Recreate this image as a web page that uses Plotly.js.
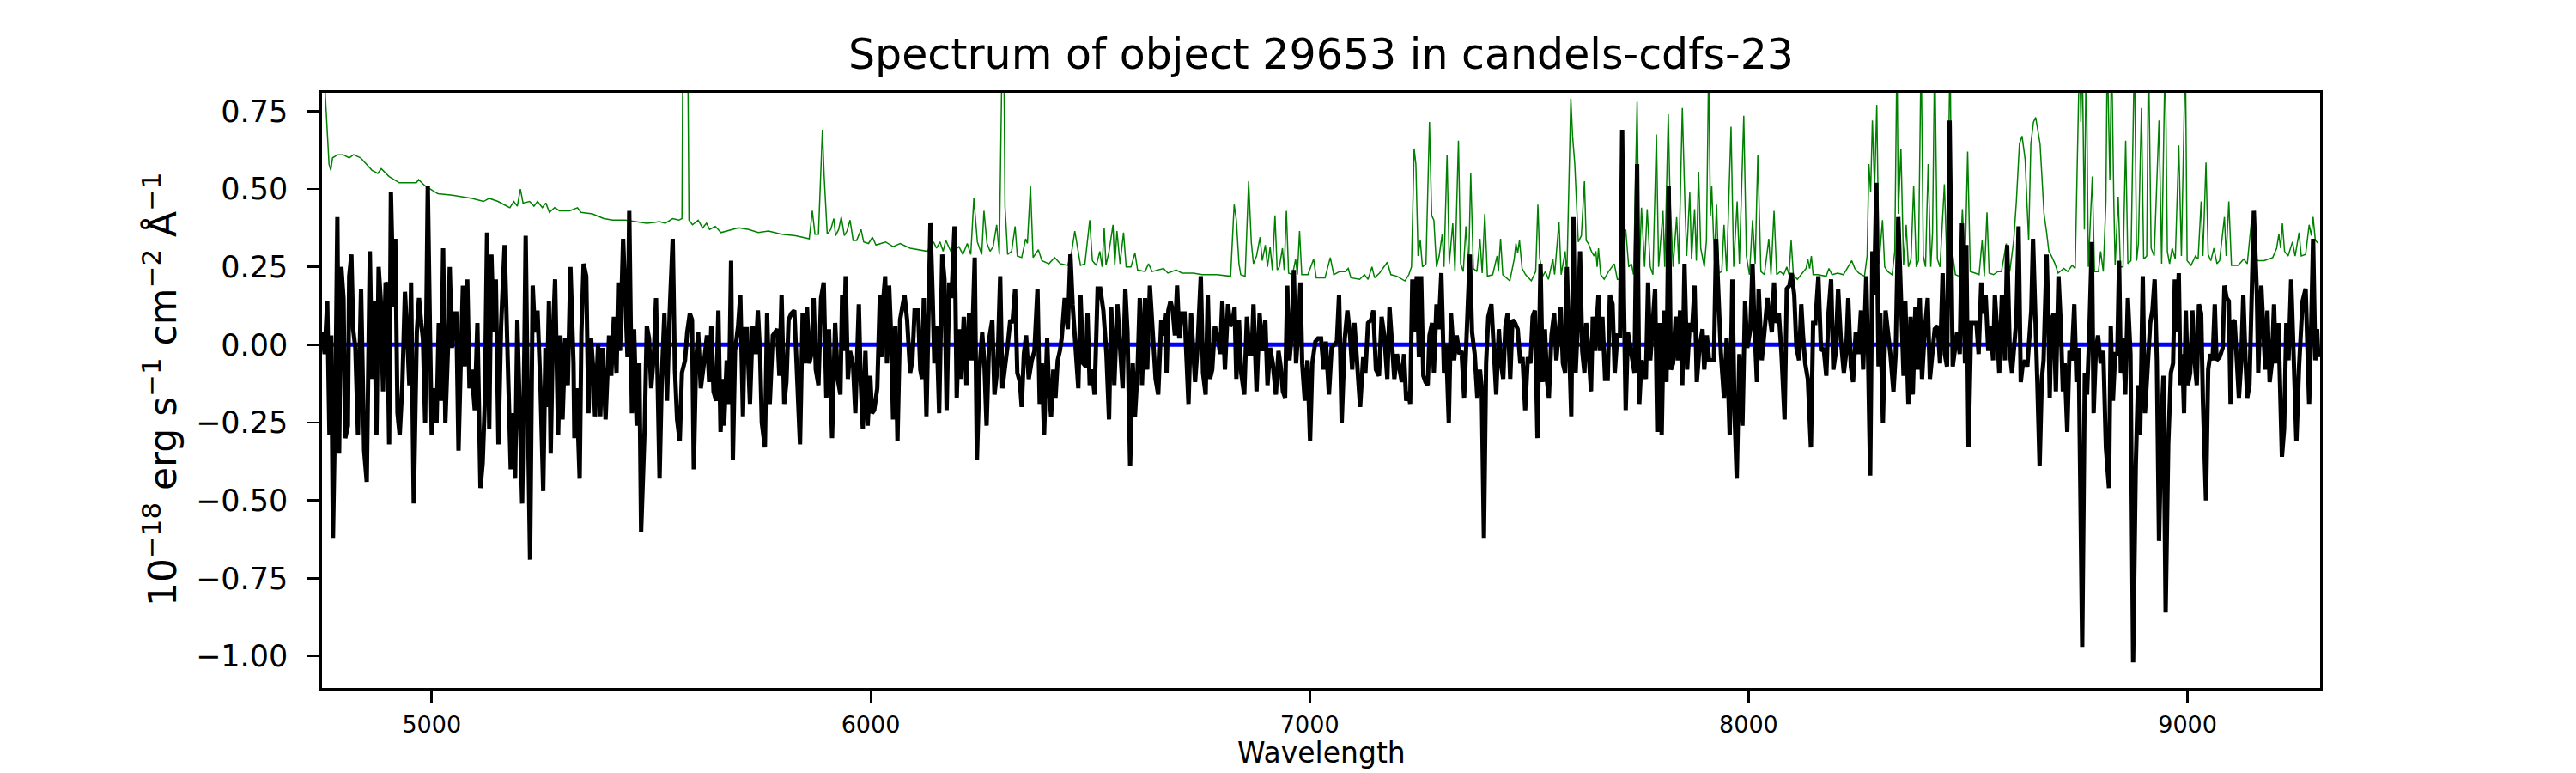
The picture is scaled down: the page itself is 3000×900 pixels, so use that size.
<!DOCTYPE html>
<html>
<head>
<meta charset="utf-8">
<script src="https://cdn.plot.ly/plotly-3.0.1.min.js"></script>
<style>
html,body{margin:0;padding:0;background:#ffffff;}
#chart{width:3000px;height:900px;}
</style>
</head>
<body>
<div id="chart"></div>
<script>
// ---------------- observed spectrum (black) ----------------
const specWaveA = [
4750,4756,4762,4767,4771,4775,4781,4785,4789,4794,
4799,4803,4809,4812,4817,4821,4826,4832,4839,4846,
4852,4859,4864,4869,4874,4879,4884,4889,4895,4898,
4903,4907,4913,4917,4922,4927,4933,4939,4944,4949,
4953,4959,4966,4971,4976,4980,4985,4991,4996,5000,
5005,5011,5016,5021,5026,5031,5037,5041,5046,5051,
5056,5061,5066,5071,5075,5081,5086,5091,5098,5104,
5111,5116,5121,5126,5131,5136,5141,5146,5152,5158,
5166,5171,5175,5180,5185,5190,5195,5200,5206,5211,
5214,5219,5224,5230,5235,5241,5248,5254,5259,5262,
5267,5271,5276,5281,5288,5293,5298,5304,5310,5316,
5323,5325,5330,5337,5341,5346,5352,5357,5363,5368,
5372,5379,5384,5389,5396,5404,5409,5415,5421,5425,
5429,5436,5441,5446,5450,5456,5461,5467,5473,5477,
5485,5490,5495,5500,5506,5511,5519,5524,5530,5536,
5542,5549,5554,5559,5565,5570,5577,5582,5588,5593,
5597,5602,5607,5613,5620,5627,5632,5637,5642,5648,
5653,5658,5663,5666,5672,5677,5682,5686,5691,5698,
5703,5709,5713];
const specFluxA = [
0.04,-0.03,0.14,-0.29,0.03,-0.62,-0.12,0.41,-0.35,0.25,
0.15,-0.30,-0.26,0.22,0.29,0.05,-0.01,-0.29,0.18,-0.34,
-0.44,0.30,-0.11,0.14,-0.29,0.25,0.14,-0.15,0.20,0.19,
-0.32,0.49,0.12,0.34,-0.22,-0.29,-0.13,0.17,0.03,-0.13,
0.20,-0.51,0.04,0.15,0.07,0.02,-0.25,0.51,0.04,-0.29,
-0.14,-0.25,0.07,-0.18,0.31,-0.25,-0.01,0.25,-0.01,0.10,
0.10,-0.34,-0.06,0.19,-0.07,0.21,-0.14,-0.08,-0.21,0.07,
-0.46,-0.38,-0.18,0.36,-0.27,0.29,0.04,0.21,-0.32,0.06,
0.32,0.02,-0.16,-0.40,-0.22,-0.43,0.08,-0.26,-0.51,-0.02,
0.35,-0.22,-0.69,0.19,0.04,0.11,-0.15,-0.47,-0.01,-0.20,
0.14,-0.35,0.03,0.21,-0.29,0.03,-0.24,0.02,-0.13,0.25,
-0.06,-0.30,-0.14,-0.43,0.04,0.26,0.22,-0.22,0.02,-0.08,
-0.23,0.00,-0.23,-0.01,-0.24,0.03,-0.10,0.09,-0.09,0.20,
-0.02,0.34,0.09,-0.04,0.43,-0.22,0.05,-0.26,-0.06,-0.60,
-0.27,0.06,0.02,-0.14,-0.03,0.15,-0.43,-0.11,0.10,-0.18,
0.10,0.34,-0.08,-0.24,-0.31,-0.09,-0.05,0.04,0.10,0.08,
-0.40,-0.06,0.04,-0.14,-0.06,0.03,-0.12,0.06,-0.15,-0.18,
0.11,-0.28,-0.11,-0.26,-0.05,-0.19,0.27,-0.37,-0.02,0.06,
0.16,-0.23,0.05];

const specWaveB = [
5718,5725,5731,5738,5743,5748,5752,5759,5764,5770,
5777,5782,5787,5792,5797,5803,5808,5813,5819,5826,
5832,5839,5845,5850,5855,5860,5865,5870,5875,5881,
5887,5893,5899,5905,5912,5919,5925,5931,5935,5939,
5943,5948,5953,5960,5965,5973,5977,5982,5988,5993,
5999,6003,6008,6015,6021,6025,6029,6033,6037,6042,
6046,6051,6056,6061,6067,6072,6077,6083,6090,6095,
6100,6108,6113,6117,6121,6127,6131,6136,6141,6145,
6150,6156,6163,6168,6173,6179,6184,6191,6196,6201,
6206,6212,6218,6224,6230,6237,6242,6248,6254,6259,
6264,6270,6277,6282,6289,6295,6300,6306,6313,6318,
6323,6329,6334,6340,6344,6349,6354,6360,6367,6373,
6380,6385,6390,6395,6402,6406,6411,6416,6421,6426,
6431,6435,6442,6449,6455,6460,6466,6473,6478,6484,
6490,6494,6499,6504,6510,6517,6523,6530,6537,6543,
6548,6555,6562,6569,6574,6580,6585,6591,6597,6602,
6608,6613,6618,6625,6630,6636,6642,6649,6655,6662,
6668,6673];
const specFluxB = [
0.05,-0.19,0.06,-0.03,0.11,-0.03,-0.25,-0.33,0.10,-0.19,
0.03,0.04,0.05,-0.10,0.16,-0.19,-0.12,0.08,0.10,0.11,
-0.12,-0.32,0.10,-0.06,0.12,-0.06,-0.03,0.15,-0.08,-0.13,
0.15,0.20,-0.17,0.05,-0.30,0.07,-0.11,-0.16,0.16,-0.02,
0.22,-0.11,-0.02,-0.07,-0.22,0.13,-0.11,-0.27,-0.02,-0.26,
-0.10,-0.22,-0.21,-0.14,0.16,-0.04,0.15,0.22,-0.06,0.19,
0.05,-0.24,0.06,-0.31,0.08,0.13,0.16,0.08,-0.09,-0.05,
0.11,0.11,-0.08,-0.11,0.15,-0.23,0.03,0.39,0.16,-0.06,
0.06,-0.22,0.29,0.21,-0.21,0.20,0.15,0.38,-0.17,0.05,
-0.11,0.09,-0.13,0.10,-0.05,0.28,-0.37,-0.08,0.04,-0.06,
-0.26,0.02,0.08,-0.16,-0.07,0.22,-0.14,-0.08,0.01,0.08,
0.07,0.18,-0.09,-0.12,-0.20,-0.03,0.03,-0.11,-0.05,-0.02,
0.18,-0.19,-0.06,-0.29,0.02,-0.14,-0.23,-0.08,-0.17,-0.05,
-0.02,0.02,0.15,0.05,0.29,0.13,-0.01,-0.14,0.16,-0.06,
-0.07,0.10,-0.13,-0.08,-0.16,0.18,0.18,0.11,-0.03,-0.24,
0.12,-0.13,0.13,-0.06,-0.14,0.18,0.04,-0.39,-0.06,-0.23,
-0.08,0.15,-0.13,0.15,-0.08,0.19,0.07,-0.11,-0.16,0.08,
0.03,0.10];

const specWaveC = [
6674,6678,6683,6688,6693,6698,6703,6708,6715,6719,
6724,6730,6739,6744,6752,6757,6763,6768,6773,6778,
6784,6791,6796,6801,6807,6814,6819,6824,6829,6833,
6839,6844,6851,6857,6863,6868,6872,6879,6886,6892,
6899,6904,6910,6916,6923,6929,6934,6939,6944,6949,
6954,6959,6964,6969,6974,6979,6983,6989,6995,7001,
7006,7013,7019,7026,7032,7037,7044,7050,7057,7062,
7067,7073,7080,7086,7092,7097,7102,7109,7115,7122,
7127,7133,7140,7145,7151,7158,7164,7170,7177,7182,
7189,7193,7199,7205,7210,7215,7220,7225,7229,7234,
7239,7244,7249,7254,7259,7264,7269,7273,7279,7283,
7289,7294,7300,7306,7311,7317,7322,7329,7335,7341,
7346,7352,7358,7365,7370,7376,7382,7388,7392,7397,
7402,7407,7414,7419,7425,7431,7436,7441,7446,7451,
7457,7462,7468,7474,7480,7485,7491,7497,7503,7508,
7513,7519,7526,7531,7536,7541,7545,7551,7557,7562,
7567,7572,7577,7582,7586,7591,7596,7601,7606,7611,
7616,7621,7626,7630];
const specFluxC = [
-0.09,0.11,0.14,0.11,0.03,0.19,0.02,0.10,0.10,-0.01,
-0.19,0.10,-0.12,-0.02,0.22,-0.09,-0.16,0.16,-0.11,-0.08,
0.06,0.02,-0.03,0.14,-0.08,0.13,0.06,0.07,0.12,-0.11,
0.08,-0.09,-0.16,0.09,-0.03,-0.03,0.13,-0.15,0.10,-0.02,
0.08,-0.13,-0.01,-0.06,-0.16,-0.02,-0.07,-0.15,-0.17,0.19,
-0.05,0.03,0.24,-0.06,0.04,0.20,-0.06,-0.18,-0.05,-0.31,
-0.06,0.01,0.02,0.02,-0.08,0.01,-0.16,-0.01,0.00,0.01,
0.16,-0.25,0.02,0.11,0.03,-0.08,0.07,-0.10,-0.20,-0.04,
-0.09,0.07,0.08,0.11,-0.08,-0.10,0.09,0.03,-0.11,0.12,
-0.03,-0.11,-0.03,-0.09,-0.12,-0.03,-0.18,-0.15,-0.19,0.21,
0.04,0.22,-0.04,0.22,-0.10,-0.12,-0.13,0.03,0.07,-0.09,
0.13,0.05,0.23,-0.09,0.00,-0.25,0.10,-0.05,0.03,-0.03,
-0.02,-0.17,0.07,0.29,0.04,-0.03,-0.17,-0.08,-0.14,-0.62,
-0.06,0.09,0.13,-0.01,-0.16,0.05,-0.06,-0.11,0.06,0.10,
-0.11,0.08,0.07,0.05,-0.06,-0.04,-0.21,-0.04,-0.06,0.09,
0.11,-0.30,0.26,-0.12,0.05,-0.12,-0.17,0.03,0.10,-0.05,
0.04,0.12,-0.06,-0.09,0.25,-0.02,-0.23,0.41,-0.09,0.07,
0.30,-0.02,-0.09,0.07];

const specWaveD = [
7635,7641,7645,7650,7654,7658,7661,7667,7673,7679,
7684,7690,7695,7701,7707,7712,7716,7720,7725,7730,
7734,7740,7746,7751,7756,7761,7766,7771,7776,7781,
7787,7792,7797,7802,7807,7813,7818,7823,7828,7834,
7839,7844,7849,7854,7860,7866,7871,7877,7882,7888,
7895,7899,7905,7910,7916,7921,7926,7932,7937,7944,
7950,7957,7963,7968,7973,7979,7986,7992,7997,8004,
8009,8013,8019,8023,8030,8036,8043,8048,8053,8058,
8062,8069,8075,8082,8087,8093,8098,8104,8109,8115,
8120,8124,8129,8135,8142,8147,8152,8159,8165,8171,
8177,8182,8188,8193,8198,8204,8210,8217,8222,8227,
8233,8238,8244,8250,8256,8261,8268,8272,8277,8282,
8286,8291,8296,8300,8306,8312,8317,8323,8330,8335,
8341,8346,8353,8357,8364,8369,8374,8380,8385,8390,
8395,8401,8408,8413,8418,8424,8431,8436,8442,8447,
8452,8458,8465,8470,8475,8481,8486,8493,8496,8501,
8507,8512,8519,8524,8530,8535,8540,8546,8551,8557,
8561,8566,8571,8577,8584,8589];
const specFluxD = [
-0.01,-0.15,0.09,-0.02,0.09,0.16,-0.02,0.09,-0.11,-0.11,
0.16,0.13,-0.09,0.03,0.03,0.69,0.14,-0.21,0.04,-0.01,
-0.03,-0.09,0.58,-0.19,-0.05,-0.07,-0.11,0.20,-0.05,0.07,
0.18,-0.28,0.07,-0.29,0.11,-0.12,0.51,-0.08,-0.06,0.09,
-0.05,0.11,-0.13,0.26,-0.08,0.07,0.04,0.19,-0.12,-0.01,
0.05,-0.08,0.03,-0.05,-0.05,-0.05,0.34,0.13,-0.03,-0.17,
0.02,-0.29,0.21,-0.22,-0.43,-0.03,-0.26,0.14,-0.01,0.05,
0.26,0.07,-0.12,0.18,-0.05,0.04,0.15,0.09,0.04,0.20,
0.07,0.10,-0.03,-0.24,0.18,0.19,0.23,0.16,-0.01,-0.05,
0.13,0.03,-0.06,-0.11,-0.33,0.07,0.07,0.22,-0.02,-0.01,
-0.10,0.10,0.21,-0.08,-0.03,0.18,0.02,-0.09,-0.03,0.15,
-0.07,-0.12,0.04,-0.03,0.11,-0.08,0.22,-0.02,-0.42,0.30,
0.16,0.52,-0.07,0.10,-0.25,0.11,0.05,-0.03,-0.15,-0.03,
0.41,0.21,-0.10,0.14,-0.19,0.09,-0.16,0.12,-0.08,0.15,
-0.11,0.04,0.15,-0.11,-0.02,0.05,0.06,-0.06,0.23,-0.03,
-0.07,0.72,-0.07,-0.01,0.04,-0.03,0.39,-0.06,0.32,-0.33,
0.07,0.07,0.07,-0.03,0.20,0.10,0.16,-0.02,0.06,-0.05,
0.16,0.05,-0.09,0.16,-0.05,0.32];

const specWaveE = [
8595,8600,8606,8610,8615,8620,8624,8630,8635,8639,
8644,8648,8653,8658,8663,8668,8672,8679,8683,8686,
8690,8695,8700,8706,8711,8716,8720,8726,8731,8736,
8742,8747,8752,8760,8766,8771,8776,8782,8786,8791,
8796,8802,8808,8814,8821,8825,8830,8835,8840,8844,
8848,8853,8858,8864,8870,8876,8882,8887,8892,8898,
8903,8909,8915,8920,8925,8930,8935,8941,8945,8950,
8956,8962,8967,8971,8975,8980,8984,8988,8992,8996,
9001,9006,9011,9016,9021,9026,9031,9035,9042,9047,
9052,9057,9062,9066,9073,9080,9084,9089,9094,9098,
9102,9107,9112,9117,9122,9127,9132,9136,9141,9146,
9151,9158,9161,9168,9173,9177,9182,9187,9192,9197,
9201,9207,9215,9220,9225,9230,9236,9241,9248,9254,
9262,9269,9277,9282,9286,9291,9295,9298];
const specFluxE = [
-0.02,-0.09,0.04,0.08,0.38,-0.12,-0.07,-0.05,-0.07,0.02,
0.11,0.34,0.04,-0.13,-0.39,-0.11,-0.05,0.29,0.09,-0.17,
0.08,0.10,-0.15,0.22,0.07,-0.15,-0.06,-0.28,-0.02,-0.05,
0.13,-0.12,-0.01,-0.97,-0.09,-0.16,0.03,0.33,-0.22,-0.02,
0.03,-0.06,-0.02,-0.33,-0.46,0.06,-0.18,-0.03,-0.03,0.27,
-0.09,0.02,-0.16,0.15,-0.03,-1.02,-0.39,-0.13,-0.29,0.22,
-0.22,-0.09,0.07,0.11,0.21,-0.05,-0.63,-0.23,-0.10,-0.86,
-0.32,-0.09,-0.06,0.21,0.04,0.23,-0.13,-0.03,-0.22,0.11,
-0.13,-0.09,0.11,-0.05,-0.13,0.13,0.10,-0.18,-0.50,-0.08,
-0.03,-0.05,0.13,-0.05,-0.04,-0.01,0.19,0.15,0.14,-0.19,
0.07,0.08,-0.03,-0.17,-0.06,0.16,-0.05,-0.17,-0.13,0.19,
0.43,0.16,-0.09,0.19,0.06,-0.08,0.11,-0.12,-0.06,0.13,
-0.06,0.07,-0.36,-0.27,0.07,-0.05,0.21,-0.02,-0.31,-0.07,
0.14,0.18,-0.19,0.08,0.34,-0.05,0.05,-0.04];

// ---------------- noise / sky spectrum (green) ----------------
const skyWaveA = [
4750,4758,4766,4770,4774,4786,4798,4812,4822,4838,
4858,4864,4871,4877,4885,4903,4926,4949,4965,4970,
4985,5014,5047,5092,5118,5131,5151,5171,5178,5187,
5195,5202,5208,5223,5233,5241,5252,5260,5268,5280,
5291,5314,5332,5340,5366,5392,5412,5441,5464,5490,
5519,5532,5549,5563,5570,5573,5582,5586,5594,5607,
5617,5626,5633,5646,5659,5686];
const skyFluxA = [
1.00,0.80,0.58,0.56,0.60,0.61,0.61,0.60,0.61,0.60,
0.57,0.56,0.555,0.55,0.565,0.54,0.52,0.52,0.52,0.53,
0.51,0.485,0.48,0.47,0.46,0.47,0.46,0.445,0.44,0.46,
0.445,0.50,0.455,0.46,0.445,0.46,0.44,0.455,0.425,0.44,
0.43,0.43,0.44,0.425,0.42,0.405,0.40,0.40,0.395,0.39,
0.395,0.39,0.405,0.40,0.405,1.20,1.20,0.40,0.385,0.40,
0.375,0.39,0.37,0.38,0.36,0.37];

const skyWaveB = [
5699,5722,5744,5767,5797,5829,5860,5867,5873,5881,
5890,5894,5901,5909,5916,5920,5927,5933,5940,5946,
5953,5960,5968,5978,5984,5995,6004,6012,6034,6051,
6067,6090,6129,6143,6150,6158,6165,6171,6184,6201,
6210,6220,6228,6235,6243,6253,6258,6265,6272,6279,
6287,6293,6300,6303,6306,6312,6321,6329,6334,6344,
6353,6357,6364,6370,6382,6390,6406,6419,6432,6449,
6458,6465,6471,6478,6488,6499,6505,6514,6522,6527,
6532,6536,6543,6552,6556,6561,6568,6576,6582,6593,
6602,6608,6625,6633,6641];
const skyFluxB = [
0.375,0.37,0.36,0.365,0.355,0.35,0.34,0.43,0.355,0.355,
0.69,0.54,0.355,0.37,0.405,0.35,0.37,0.41,0.35,0.365,
0.40,0.335,0.335,0.37,0.33,0.325,0.345,0.32,0.33,0.315,
0.325,0.31,0.30,0.33,0.31,0.33,0.30,0.335,0.295,0.315,
0.29,0.325,0.29,0.47,0.33,0.29,0.43,0.325,0.30,0.315,
0.385,0.29,1.00,1.00,0.445,0.29,0.30,0.38,0.285,0.28,
0.34,0.325,0.51,0.28,0.305,0.27,0.26,0.28,0.26,0.255,
0.30,0.365,0.31,0.255,0.26,0.40,0.27,0.255,0.30,0.25,
0.375,0.255,0.30,0.385,0.255,0.365,0.26,0.36,0.25,0.25,
0.295,0.24,0.235,0.26,0.235];

const skyWaveC = [
6657,6667,6677,6696,6709,6735,6755,6788,6820,6828,
6833,6839,6843,6853,6861,6867,6872,6879,6887,6892,
6899,6904,6910,6915,6921,6926,6931,6938,6942,6947,
6952,6961,6968,6972,6977,6982,6996,7003,7009,7015,
7035,7047,7055,7068,7081,7088,7094,7114,7125,7133,
7142,7148,7159,7177,7185,7199,7217,7226,7232,7238,
7242,7247,7252,7257,7265,7273,7278,7283,7289,7295,
7302,7306,7313,7318,7326,7331,7339,7344,7350,7356,
7362,7367,7373,7381,7388,7393,7399,7405,7417,7427,
7430,7435,7440,7456,7466,7470,7474,7478,7484,7492,
7505,7515,7520,7524,7531,7537,7544,7554,7558,7568,
7573,7582,7586,7595,7599,7604,7612,7619,7626,7630,
7635];
const skyFluxC = [
0.24,0.245,0.23,0.24,0.23,0.23,0.225,0.225,0.22,0.45,
0.40,0.26,0.225,0.22,0.525,0.33,0.26,0.285,0.345,0.27,
0.32,0.25,0.315,0.24,0.415,0.24,0.25,0.31,0.24,0.43,
0.23,0.225,0.275,0.225,0.365,0.225,0.225,0.25,0.275,0.215,
0.215,0.28,0.225,0.235,0.235,0.245,0.215,0.21,0.225,0.21,
0.25,0.215,0.23,0.265,0.225,0.22,0.205,0.225,0.25,0.63,
0.58,0.285,0.335,0.25,0.26,0.715,0.415,0.40,0.25,0.285,
0.355,0.25,0.61,0.26,0.39,0.235,0.655,0.26,0.235,0.38,
0.235,0.55,0.245,0.235,0.34,0.23,0.42,0.22,0.225,0.285,
0.235,0.34,0.225,0.205,0.275,0.325,0.295,0.335,0.245,0.225,
0.205,0.235,0.45,0.28,0.22,0.235,0.21,0.275,0.225,0.395,
0.225,0.30,0.225,0.79,0.67,0.58,0.33,0.35,0.525,0.335,
0.325];

const skyWaveD = [
7642,7648,7652,7655,7658,7663,7671,7681,7694,7701,
7707,7720,7727,7733,7738,7746,7751,7756,7763,7769,
7776,7782,7790,7795,7805,7809,7817,7821,7828,7836,
7841,7849,7855,7859,7866,7870,7877,7881,7886,7891,
7899,7904,7909,7913,7916,7922,7927,7932,7939,7944,
7950,7960,7966,7974,7979,7989,7995,8002,8009,8015,
8021,8028,8036,8046,8051,8058,8064,8072,8080,8087,
8092,8097,8102,8111,8131,8135,8139,8143,8147,8157,
8177,8183,8190,8203,8216,8235,8242,8251,8264,8270,
8274,8278,8282,8287,8292,8297,8305,8310,8317,8327,
8333,8338,8341,8347,8353,8359,8364,8370,8376,8382,
8387,8393,8398,8403,8409,8415,8419,8424,8430,8436,
8446,8452,8459,8463,8471,8480,8487,8493,8499,8505,
8516,8525,8532,8537,8543,8548,8558,8568,8576,8582,
8587];
const skyFluxD = [
0.30,0.285,0.30,0.25,0.31,0.225,0.21,0.235,0.26,0.21,
0.21,0.37,0.25,0.26,0.225,0.78,0.235,0.44,0.25,0.435,
0.25,0.225,0.675,0.25,0.43,0.25,0.74,0.47,0.25,0.41,
0.26,0.76,0.45,0.285,0.49,0.275,0.435,0.27,0.555,0.31,
0.25,0.335,0.90,0.415,0.51,0.27,0.45,0.23,0.235,0.385,
0.235,0.70,0.25,0.46,0.26,0.735,0.285,0.225,0.40,0.26,
0.61,0.235,0.225,0.34,0.225,0.43,0.225,0.235,0.225,0.25,
0.225,0.335,0.225,0.21,0.245,0.275,0.245,0.285,0.225,0.225,
0.22,0.245,0.225,0.23,0.225,0.27,0.245,0.23,0.22,0.285,
0.58,0.49,0.72,0.50,0.77,0.26,0.40,0.25,0.235,0.225,
0.30,0.95,0.42,0.63,0.255,0.385,0.25,0.275,0.51,0.25,
0.27,0.95,0.285,0.25,0.58,0.25,0.36,0.95,0.275,0.25,
0.515,0.255,0.95,0.31,0.225,0.22,0.435,0.25,0.62,0.235,
0.23,0.225,0.335,0.22,0.425,0.23,0.225,0.235,0.235,0.29,
0.325];

const skyWaveE = [
8595,8604,8610,8617,8623,8630,8634,8638,8643,8649,
8654,8659,8664,8669,8673,8679,8684,8690,8698,8705,
8718,8727,8737,8744,8749,8754,8757,8760,8765,8769,
8774,8783,8788,8797,8802,8808,8814,8817,8823,8827,
8832,8835,8842,8847,8853,8859,8864,8871,8879,8884,
8888,8895,8900,8907,8911,8917,8924,8935,8941,8949,
8954,8959,8965,8972,8980,8986,8995,8999,9008,9018,
9024,9031,9035,9042,9047,9053,9060,9067,9073,9084,
9088,9094,9100,9115,9128,9136,9145,9149,9161,9174,
9194,9203,9208,9212,9216,9221,9229,9239,9245,9254,
9259,9269,9277,9282,9286,9291,9298];
const skyFluxE = [
0.235,0.335,0.46,0.645,0.67,0.595,0.46,0.335,0.645,0.715,
0.73,0.69,0.645,0.52,0.42,0.36,0.30,0.285,0.26,0.23,
0.245,0.235,0.255,0.245,0.58,0.95,0.715,0.95,0.37,0.95,
0.25,0.54,0.235,0.235,0.30,0.235,0.46,0.95,0.53,0.95,
0.46,0.255,0.475,0.25,0.25,0.655,0.26,0.27,0.95,0.27,
0.325,0.76,0.275,0.285,0.95,0.31,0.285,0.72,0.26,0.95,
0.30,0.26,0.31,0.275,0.64,0.285,0.95,0.27,0.255,0.285,
0.275,0.46,0.285,0.585,0.29,0.27,0.31,0.26,0.27,0.41,
0.285,0.46,0.255,0.255,0.275,0.26,0.39,0.285,0.27,0.27,
0.28,0.31,0.355,0.31,0.39,0.30,0.285,0.33,0.285,0.36,
0.285,0.29,0.385,0.35,0.41,0.335,0.325];

// ---------------- zero continuum (blue) ----------------
const zeroWave = [4750, 9300];
const zeroFlux = [0, 0];

// ---------------- axis ticks ----------------
const xTickVals = [5000, 6000, 7000, 8000, 9000];
const yTickVals = [-1.00, -0.75, -0.50, -0.25, 0.00, 0.25, 0.50, 0.75];

const titleText = 'Spectrum of object 29653 in candels-cdfs-23';
const xLabelText = 'Wavelength';
const yLabelText = '10<sup>\u221218</sup> erg s<sup>\u22121</sup> cm<sup>\u22122</sup> \u00c5<sup>\u22121</sup>';

// ---------------- assemble ----------------
const pairs = [
  ['A', specWaveA, specFluxA], ['B', specWaveB, specFluxB], ['C', specWaveC, specFluxC],
  ['D', specWaveD, specFluxD], ['E', specWaveE, specFluxE],
  ['sA', skyWaveA, skyFluxA], ['sB', skyWaveB, skyFluxB], ['sC', skyWaveC, skyFluxC],
  ['sD', skyWaveD, skyFluxD], ['sE', skyWaveE, skyFluxE]
];
pairs.forEach(p => { if (p[1].length !== p[2].length) throw new Error('length mismatch ' + p[0] + ': ' + p[1].length + ' vs ' + p[2].length); });

const specWave = [].concat(specWaveA, specWaveB, specWaveC, specWaveD, specWaveE);
const specFlux = [].concat(specFluxA, specFluxB, specFluxC, specFluxD, specFluxE);
const skyWave = [].concat(skyWaveA, skyWaveB, skyWaveC, skyWaveD, skyWaveE);
const skyFlux = [].concat(skyFluxA, skyFluxB, skyFluxC, skyFluxD, skyFluxE);

const traces = [
  {x: skyWave, y: skyFlux, type: 'scatter', mode: 'lines', line: {color: '#008000', width: 1.5}, hoverinfo: 'skip'},
  {x: zeroWave, y: zeroFlux, type: 'scatter', mode: 'lines', line: {color: '#0000ff', width: 5}, hoverinfo: 'skip'},
  {x: specWave, y: specFlux, type: 'scatter', mode: 'lines', line: {color: '#000000', width: 5}, hoverinfo: 'skip'}
];

const plotTop = 108, plotBottom = 801, plotLeft = 375, plotRight = 2702, W = 3000, H = 900;
const layout = {
  width: W, height: H,
  margin: {l: plotLeft, r: W - plotRight, t: plotTop, b: H - plotBottom, pad: 0},
  paper_bgcolor: '#ffffff', plot_bgcolor: '#ffffff',
  showlegend: false,
  font: {family: 'DejaVu Sans, Liberation Sans, sans-serif', color: '#000000'},
  title: {
    text: titleText, font: {size: 49, color: '#000000'},
    x: 0.5, xref: 'paper', xanchor: 'center',
    y: 1 - 63 / H, yref: 'container', yanchor: 'middle'
  },
  xaxis: {
    range: [4750, 9302], tickmode: 'array', tickvals: xTickVals,
    ticks: 'outside', ticklen: 14, tickwidth: 2.8, tickcolor: '#000000',
    ticklabelstandoff: 3,
    showline: true, linecolor: '#000000', linewidth: 2.8, mirror: true,
    showgrid: false, zeroline: false,
    tickfont: {size: 27, color: '#000000'},
    fixedrange: true
  },
  yaxis: {
    range: [-1.102, 0.809], tickmode: 'array', tickvals: yTickVals, tickformat: '.2f',
    ticks: 'outside', ticklen: 14, tickwidth: 2.8, tickcolor: '#000000',
    ticklabelstandoff: 16,
    showline: true, linecolor: '#000000', linewidth: 2.8, mirror: true,
    showgrid: false, zeroline: false,
    tickfont: {size: 35, color: '#000000'},
    fixedrange: true
  },
  annotations: [
    {text: xLabelText, xref: 'paper', yref: 'paper', x: 0.5, y: -(876 - plotBottom) / (plotBottom - plotTop),
     xanchor: 'center', yanchor: 'middle', showarrow: false, font: {size: 33, color: '#000000'}},
    {text: yLabelText, xref: 'paper', yref: 'paper', x: (186 - plotLeft) / (plotRight - plotLeft), y: (plotBottom - 453) / (plotBottom - plotTop),
     xanchor: 'center', yanchor: 'middle', textangle: -90, showarrow: false, font: {size: 44, color: '#000000'}}
  ]
};

Plotly.newPlot('chart', traces, layout, {displayModeBar: false, staticPlot: true});
</script>
</body>
</html>
